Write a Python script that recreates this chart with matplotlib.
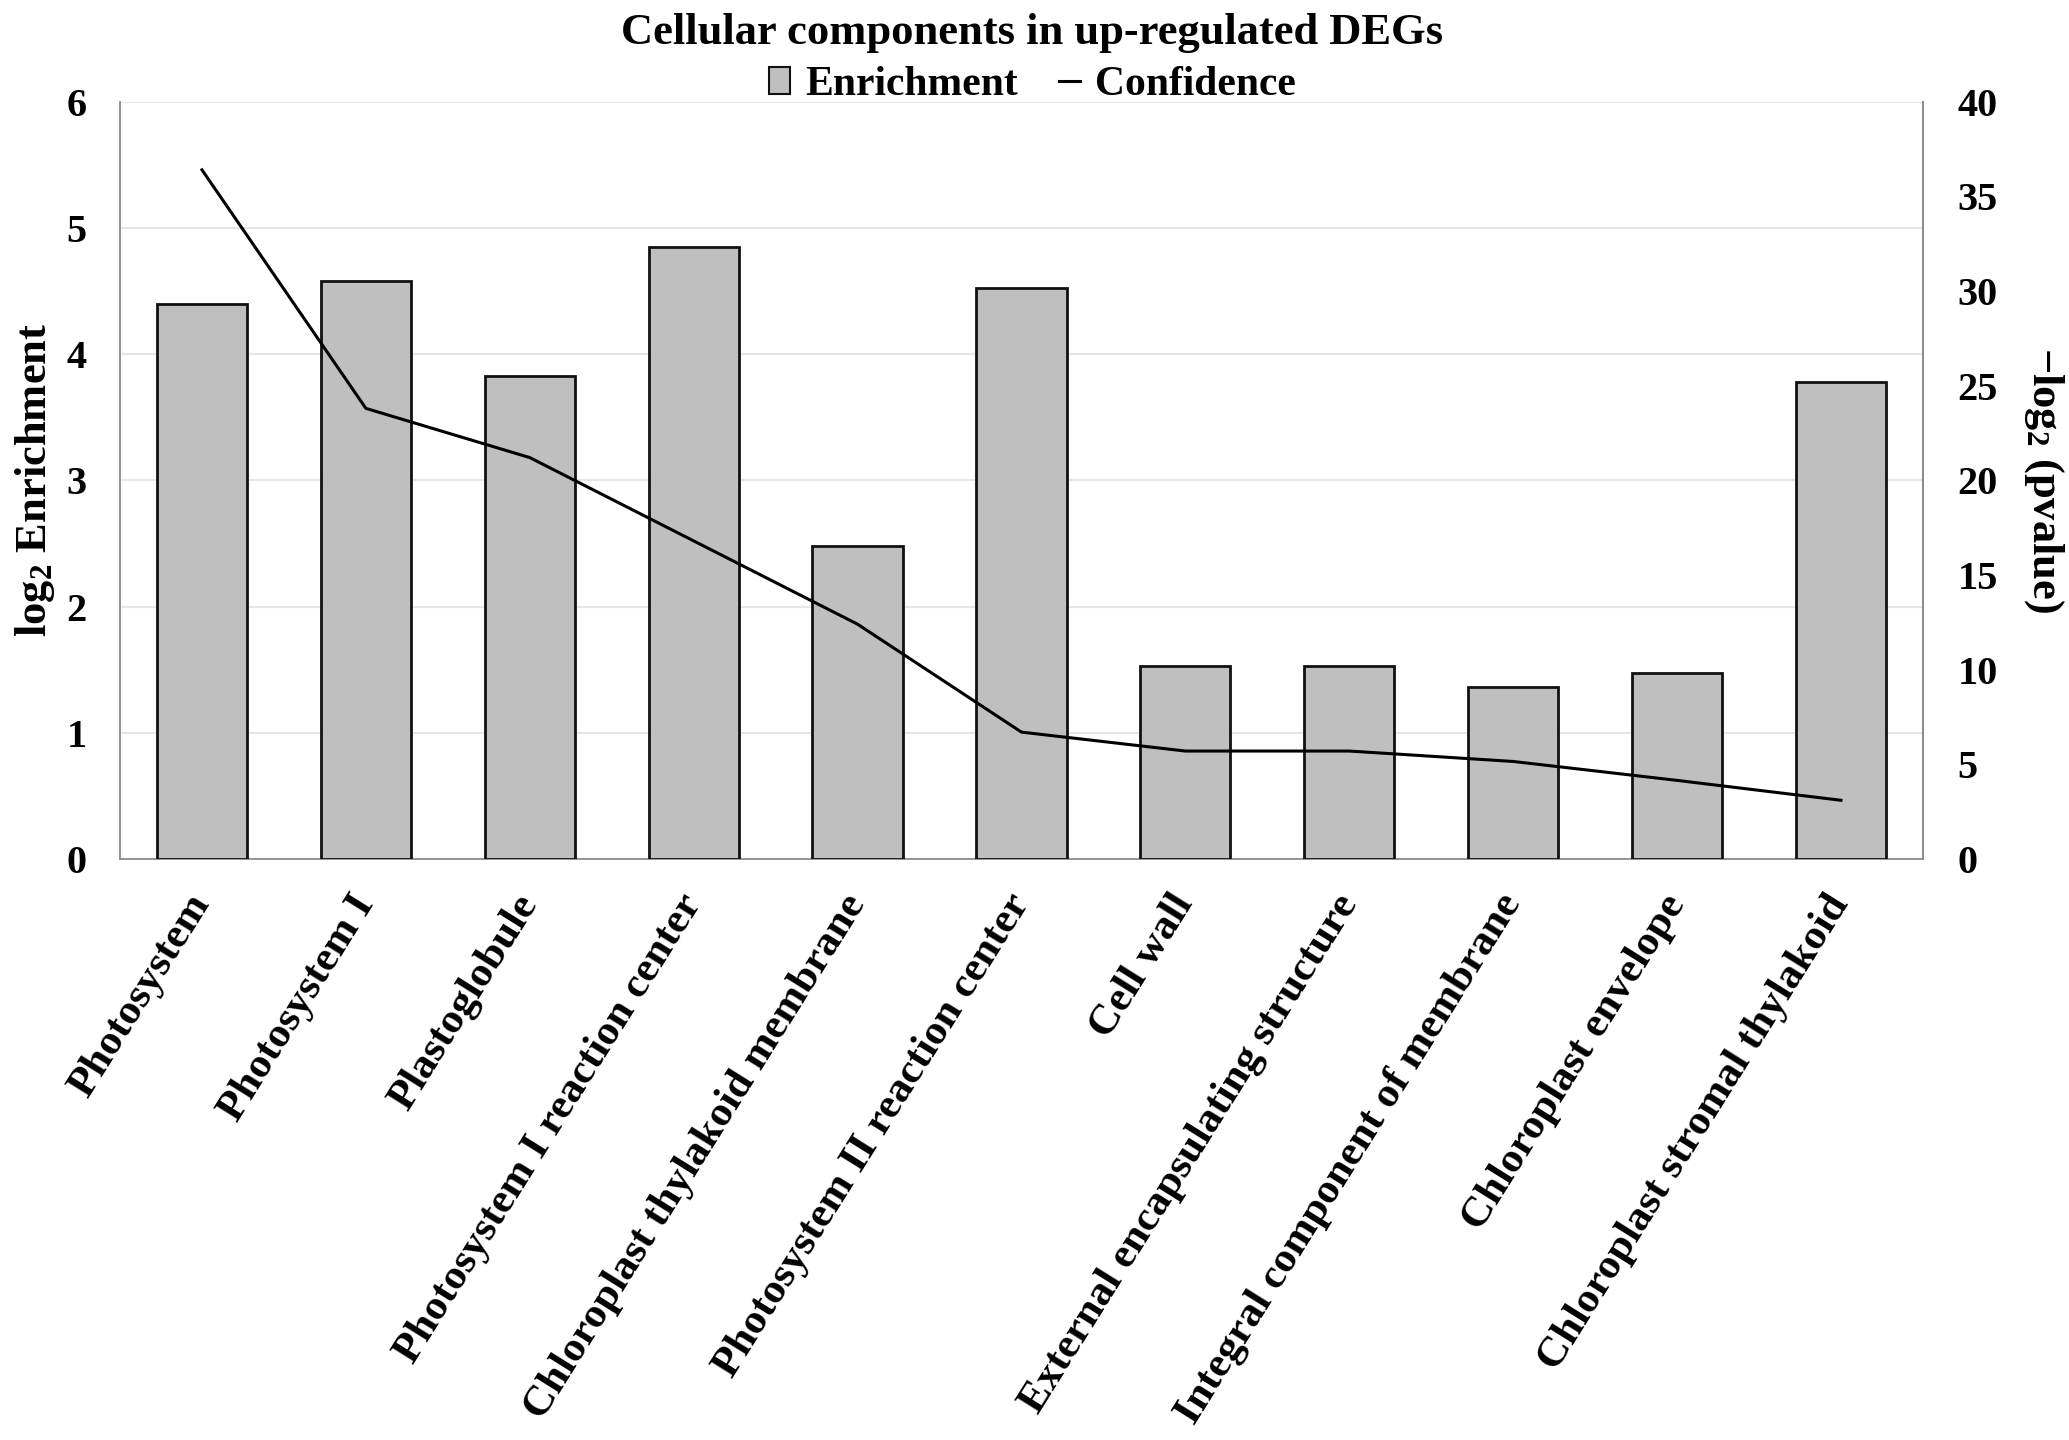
import matplotlib
matplotlib.use("Agg")
import matplotlib.pyplot as plt
from matplotlib.patches import Patch
from matplotlib.lines import Line2D
import numpy as np

categories = ["Photosystem", "Photosystem I", "Plastoglobule", "Photosystem I reaction center",
              "Chloroplast thylakoid membrane", "Photosystem II reaction center", "Cell wall",
              "External encapsulating structure", "Integral component of membrane",
              "Chloroplast envelope", "Chloroplast stromal thylakoid"]
enrichment = [4.40, 4.58, 3.83, 4.85, 2.48, 4.52, 1.53, 1.53, 1.36, 1.47, 3.78]
confidence = [36.4, 23.8, 21.2, 16.8, 12.4, 6.7, 5.7, 5.7, 5.15, 4.15, 3.1]
left_ticks = [0, 1, 2, 3, 4, 5, 6]
right_ticks = [0, 5, 10, 15, 20, 25, 30, 35, 40]

plt.rcParams['font.family'] = ['Liberation Serif', 'DejaVu Serif']
plt.rcParams['font.weight'] = 'bold'
plt.rcParams['mathtext.fontset'] = 'custom'
plt.rcParams['mathtext.rm'] = 'Liberation Serif:bold'
plt.rcParams['mathtext.bf'] = 'Liberation Serif:bold'
plt.rcParams['mathtext.it'] = 'Liberation Serif:bold'
plt.rcParams['mathtext.default'] = 'rm'

fig = plt.figure(figsize=(20.69, 14.40), dpi=100)
ax = fig.add_axes([0.058, 0.4035, 0.8714, 0.5259])
x = np.arange(len(categories))

ax.bar(x, enrichment, width=0.55, color='#bfbfbf', edgecolor='#111111', linewidth=2.0, zorder=3)
ax.set_xlim(-0.5, len(categories) - 0.5)
ax.set_ylim(0, 6)
ax.set_yticks(left_ticks)
ax.yaxis.grid(True, color='#e6e6e6', linewidth=1.5, zorder=0)
ax.set_axisbelow(True)
ax.set_xticks(x)
ax.set_xticklabels(categories, rotation=58, ha='right', va='center', rotation_mode='anchor',
                   fontsize=31, fontweight='bold')
ax.tick_params(axis='x', length=0, pad=28)
ax.tick_params(axis='y', length=0, pad=24, labelsize=29)
for s in ['left', 'bottom', 'right']:
    ax.spines[s].set_color('#8c8c8c')
    ax.spines[s].set_linewidth(1.3)
ax.spines['top'].set_visible(False)
ax.set_ylabel(r'log$_2$ Enrichment', fontsize=32, fontweight='bold', labelpad=7)

ax2 = ax.twinx()
ax2.plot(x, confidence, color='black', linewidth=2.2, zorder=5)
ax2.set_ylim(0, 40)
ax2.set_yticks(right_ticks)
ax2.tick_params(axis='y', length=0, pad=25, labelsize=29)
for s in ['top', 'left', 'bottom']:
    ax2.spines[s].set_visible(False)
ax2.spines['right'].set_color('#8c8c8c')
ax2.spines['right'].set_linewidth(1.3)
ax2.set_ylabel(r'$-$log$_2$ (pvalue)', fontsize=32, fontweight='bold', rotation=270,
               labelpad=17, va='bottom')

fig.text(0.499, 0.977, 'Cellular components in up-regulated DEGs', ha='center', va='center',
         fontsize=32, fontweight='bold')
handles = [Patch(facecolor='#bfbfbf', edgecolor='#111111', linewidth=1.5),
           Line2D([0], [0], color='black', linewidth=2.2)]
fig.legend(handles, ['Enrichment', 'Confidence'], loc='center', bbox_to_anchor=(0.499, 0.941),
           ncol=2, frameon=False, fontsize=30, handlelength=0.5, handleheight=0.6,
           handletextpad=0.35, columnspacing=1.0)

fig.savefig('out.png', dpi=100)
